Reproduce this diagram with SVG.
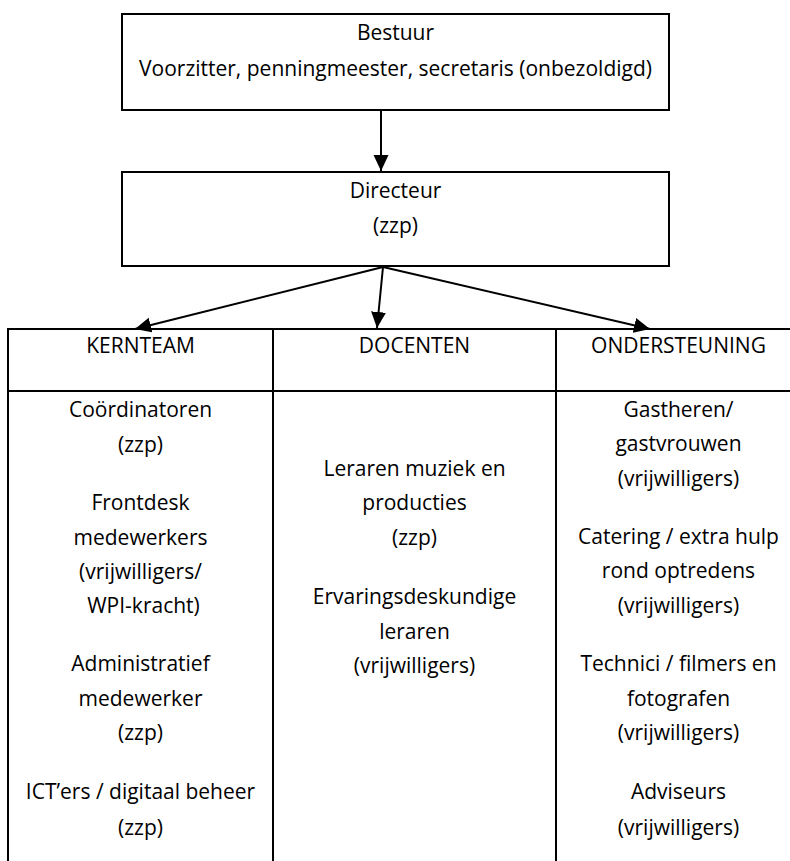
<svg xmlns="http://www.w3.org/2000/svg" width="790" height="861" viewBox="0 0 790 861">
  <style>
    .box { fill: #ffffff; stroke: #000000; stroke-width: 2; }
    .cell { fill: #ffffff; stroke: #000000; stroke-width: 2; }
    .t { font-family: "Open Sans", "Liberation Sans", sans-serif; font-size: 21px; fill: #000000; text-anchor: middle; }
    .conn { stroke: #000000; stroke-width: 2; fill: none; marker-end: url(#arrow); }
  </style>
  <defs>
    <marker id="arrow" markerUnits="userSpaceOnUse" markerWidth="18" markerHeight="16" refX="16" refY="7.5" orient="auto">
      <path d="M0,0 L16,7.5 L0,15 Z" fill="#000000"/>
    </marker>
  </defs>
  <rect x="0" y="0" width="790" height="861" fill="#ffffff"/>

  <g id="bestuur">
    <rect class="box" x="122" y="14" width="547" height="96"/>
    <text class="t" x="395.5" y="40">Bestuur</text>
    <text class="t" x="395.5" y="76">Voorzitter, penningmeester, secretaris (onbezoldigd)</text>
  </g>

  <g id="directeur">
    <rect class="box" x="122" y="172" width="547" height="94"/>
    <text class="t" x="395.5" y="198">Directeur</text>
    <text class="t" x="395.5" y="233">(zzp)</text>
  </g>

  <g id="kernteam">
    <rect class="cell" x="8" y="329" width="265" height="62"/>
    <rect class="cell" x="8" y="391" width="265" height="480"/>
    <text class="t" x="140.5" y="353">KERNTEAM</text>
    <text class="t" x="140.5" y="417">Coördinatoren</text>
    <text class="t" x="140.5" y="452">(zzp)</text>
    <text class="t" x="140.5" y="510">Frontdesk</text>
    <text class="t" x="140.5" y="544.5">medewerkers</text>
    <text class="t" x="140.5" y="578.5">(vrijwilligers/</text>
    <text class="t" x="143.5" y="612.5">WPI-kracht)</text>
    <text class="t" x="140.5" y="671">Administratief</text>
    <text class="t" x="140.5" y="705.5">medewerker</text>
    <text class="t" x="140.5" y="740">(zzp)</text>
    <text class="t" x="140.5" y="799">ICT’ers / digitaal beheer</text>
    <text class="t" x="140.5" y="834.5">(zzp)</text>
  </g>

  <g id="docenten">
    <rect class="cell" x="273" y="329" width="283" height="62"/>
    <rect class="cell" x="273" y="391" width="283" height="480"/>
    <text class="t" x="414.5" y="353">DOCENTEN</text>
    <text class="t" x="414.5" y="476">Leraren muziek en</text>
    <text class="t" x="414.5" y="510">producties</text>
    <text class="t" x="414.5" y="545">(zzp)</text>
    <text class="t" x="414.5" y="604">Ervaringsdeskundige</text>
    <text class="t" x="414.5" y="638.5">leraren</text>
    <text class="t" x="414.5" y="673">(vrijwilligers)</text>
  </g>

  <g id="ondersteuning">
    <rect class="cell" x="556" y="329" width="245" height="62"/>
    <rect class="cell" x="556" y="391" width="245" height="480"/>
    <text class="t" x="678.5" y="353">ONDERSTEUNING</text>
    <text class="t" x="678.5" y="417">Gastheren/</text>
    <text class="t" x="678.5" y="451">gastvrouwen</text>
    <text class="t" x="678.5" y="485.5">(vrijwilligers)</text>
    <text class="t" x="678.5" y="544">Catering / extra hulp</text>
    <text class="t" x="678.5" y="578">rond optredens</text>
    <text class="t" x="678.5" y="612.5">(vrijwilligers)</text>
    <text class="t" x="678.5" y="671">Technici / filmers en</text>
    <text class="t" x="678.5" y="705.5">fotografen</text>
    <text class="t" x="678.5" y="740">(vrijwilligers)</text>
    <text class="t" x="678.5" y="799">Adviseurs</text>
    <text class="t" x="678.5" y="834.5">(vrijwilligers)</text>
  </g>

  <g id="connectors">
    <line class="conn" x1="381" y1="111" x2="381" y2="171"/>
    <line class="conn" x1="383" y1="267" x2="135" y2="329"/>
    <line class="conn" x1="383" y1="267" x2="377" y2="328"/>
    <line class="conn" x1="383" y1="267" x2="650" y2="329"/>
  </g>
</svg>
